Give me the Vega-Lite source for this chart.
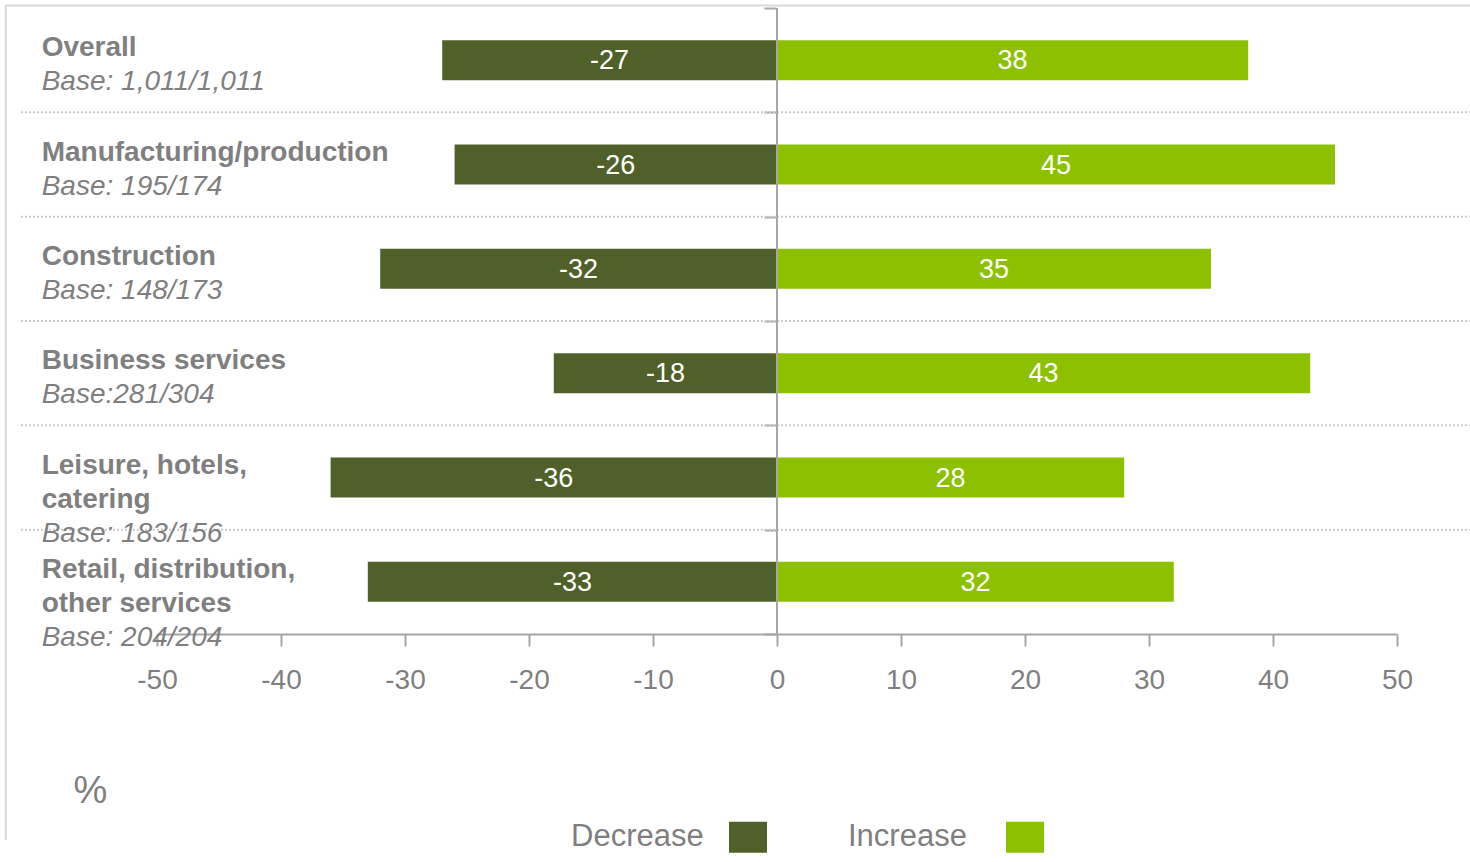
{
  "$schema": "https://vega.github.io/schema/vega-lite/v6.json",
  "width": 1240,
  "height": 834.67,
  "autosize": {"type": "none"},
  "padding": {"left": 157, "top": 5, "right": 73, "bottom": 22.33},
  "background": "white",
  "config": {"font": "Liberation Sans", "view": {"stroke": null}},
  "datasets": {
    "bars": [
      {"category": "Overall", "direction": "Decrease", "value": -27},
      {"category": "Overall", "direction": "Increase", "value": 38},
      {"category": "Manufacturing/production", "direction": "Decrease", "value": -26},
      {"category": "Manufacturing/production", "direction": "Increase", "value": 45},
      {"category": "Construction", "direction": "Decrease", "value": -32},
      {"category": "Construction", "direction": "Increase", "value": 35},
      {"category": "Business services", "direction": "Decrease", "value": -18},
      {"category": "Business services", "direction": "Increase", "value": 43},
      {"category": "Leisure, hotels, catering", "direction": "Decrease", "value": -36},
      {"category": "Leisure, hotels, catering", "direction": "Increase", "value": 28},
      {"category": "Retail, distribution, other services", "direction": "Decrease", "value": -33},
      {"category": "Retail, distribution, other services", "direction": "Increase", "value": 32}
    ],
    "labels": [
      {"category": "Overall", "line": 0, "part": "name", "text": "Overall"},
      {"category": "Overall", "line": 1, "part": "base", "text": "Base: 1,011/1,011"},
      {"category": "Manufacturing/production", "line": 0, "part": "name", "text": "Manufacturing/production"},
      {"category": "Manufacturing/production", "line": 1, "part": "base", "text": "Base: 195/174"},
      {"category": "Construction", "line": 0, "part": "name", "text": "Construction"},
      {"category": "Construction", "line": 1, "part": "base", "text": "Base: 148/173"},
      {"category": "Business services", "line": 0, "part": "name", "text": "Business services"},
      {"category": "Business services", "line": 1, "part": "base", "text": "Base:281/304"},
      {"category": "Leisure, hotels, catering", "line": 0, "part": "name", "text": "Leisure, hotels,"},
      {"category": "Leisure, hotels, catering", "line": 1, "part": "name", "text": "\u00a0catering"},
      {"category": "Leisure, hotels, catering", "line": 2, "part": "base", "text": "Base: 183/156"},
      {"category": "Retail, distribution, other services", "line": 0, "part": "name", "text": "Retail, distribution,"},
      {"category": "Retail, distribution, other services", "line": 1, "part": "name", "text": "other services"},
      {"category": "Retail, distribution, other services", "line": 2, "part": "base", "text": "Base: 204/204"}
    ]
  },
  "resolve": {"scale": {"x": "independent"}},
  "layer": [
    {
      "data": {"values": [{"frame": "left"}]},
      "mark": {"type": "rule", "color": "#d9d9d9", "strokeWidth": 2},
      "encoding": {
        "x": {"datum": -62.2, "type": "quantitative", "scale": {"domain": [-50, 50], "nice": false, "zero": false}, "axis": null}
      }
    },
    {
      "data": {"name": "bars"},
      "transform": [{"filter": "datum.category === 'Overall' && datum.direction === 'Decrease'"}],
      "mark": {"type": "rule", "color": "#d9d9d9", "strokeWidth": 2},
      "encoding": {
        "x": {"datum": -62.2, "type": "quantitative", "scale": {"domain": [-50, 50], "nice": false, "zero": false}, "axis": null},
        "x2": {"datum": 55.97},
        "y": {"field": "category", "type": "nominal", "bandPosition": -0.025, "scale": {"domain": ["Overall", "Manufacturing/production", "Construction", "Business services", "Leisure, hotels, catering", "Retail, distribution, other services"]}}
      }
    },
    {
      "data": {"name": "bars"},
      "transform": [{"filter": "datum.direction === 'Decrease' && datum.category !== 'Retail, distribution, other services'"}],
      "mark": {"type": "rule", "color": "#c8c8c8", "strokeWidth": 2, "strokeDash": [2, 2]},
      "encoding": {
        "x": {"datum": -60.97, "type": "quantitative", "scale": {"domain": [-50, 50], "nice": false, "zero": false}, "axis": null},
        "x2": {"datum": 55.97},
        "y": {"field": "category", "type": "nominal", "bandPosition": 1, "scale": {"domain": ["Overall", "Manufacturing/production", "Construction", "Business services", "Leisure, hotels, catering", "Retail, distribution, other services"]}}
      }
    },
    {
      "data": {"name": "bars"},
      "mark": {"type": "bar", "height": {"band": 0.384}},
      "encoding": {
        "y": {
          "field": "category", "type": "nominal",
          "scale": {"domain": ["Overall", "Manufacturing/production", "Construction", "Business services", "Leisure, hotels, catering", "Retail, distribution, other services"], "paddingInner": 0, "paddingOuter": 1, "align": 0.014375},
          "axis": {"orient": "left", "offset": -619, "domain": false, "labels": false, "grid": false, "tickBand": "extent", "ticks": true, "tickSize": 12, "tickColor": "#a6a6a6", "tickWidth": 2, "tickOpacity": 1, "title": null}
        },
        "x": {
          "field": "value", "type": "quantitative", "stack": null,
          "scale": {"domain": [-50, 50], "nice": false, "zero": false},
          "axis": {
            "orient": "bottom", "offset": -205.67, "values": [-50, -40, -30, -20, -10, 0, 10, 20, 30, 40, 50],
            "labelExpr": "'' + datum.value",
            "grid": false, "domainColor": "#a6a6a6", "domainWidth": 2, "tickColor": "#a6a6a6", "tickWidth": 2, "tickSize": 12,
            "labelFontSize": 28, "labelColor": "#7f7f7f", "labelPadding": 20, "labelFlush": false,
            "title": "%", "titleFontSize": 38, "titleFontWeight": "normal", "titleColor": "#7f7f7f",
            "titleX": -84, "titleY": 168, "titleAlign": "left", "titleAnchor": "start", "titleBaseline": "alphabetic"
          }
        },
        "color": {
          "field": "direction", "type": "nominal",
          "scale": {"domain": ["Decrease", "Increase"], "range": ["#4f6128", "#8dc100"]},
          "legend": {
            "title": null, "orient": "none", "legendX": 414, "legendY": 813, "direction": "horizontal", "padding": 0,
            "symbolType": "M-1,-0.82L1,-0.82L1,0.82L-1,0.82Z", "symbolSize": 1444, "symbolStrokeWidth": 0,
            "symbolOffset": 158, "labelOffset": -196, "labelAlign": "left", "labelFontSize": 31, "labelColor": "#7f7f7f",
            "columnPadding": 81, "labelLimit": 300
          }
        }
      }
    },
    {
      "data": {"name": "bars"},
      "transform": [{"filter": "datum.direction === 'Decrease'"}],
      "mark": {"type": "rect", "fill": null, "stroke": "#a6a6a6", "strokeWidth": 2},
      "encoding": {
        "x": {"datum": 0, "type": "quantitative", "scale": {"domain": [-50, 50], "nice": false, "zero": false}, "axis": null},
        "x2": {"datum": 0},
        "y": {"field": "category", "type": "nominal", "scale": {"domain": ["Overall", "Manufacturing/production", "Construction", "Business services", "Leisure, hotels, catering", "Retail, distribution, other services"]}}
      }
    },
    {
      "data": {"name": "bars"},
      "mark": {"type": "text", "color": "white", "fontSize": 27, "baseline": "middle", "align": "center", "dy": 1},
      "encoding": {
        "x": {"field": "value", "type": "quantitative", "scale": {"domain": [-100, 100], "nice": false, "zero": false}, "axis": null},
        "y": {"field": "category", "type": "nominal", "scale": {"domain": ["Overall", "Manufacturing/production", "Construction", "Business services", "Leisure, hotels, catering", "Retail, distribution, other services"]}},
        "text": {"field": "value", "type": "nominal"}
      }
    },
    {
      "data": {"name": "labels"},
      "transform": [{"filter": "datum.part === 'name' && datum.line === 0"}],
      "mark": {"type": "text", "color": "#7f7f7f", "fontSize": 28, "fontWeight": "bold", "baseline": "middle", "align": "left", "dy": -12},
      "encoding": {
        "x": {"datum": -59.3, "type": "quantitative", "scale": {"domain": [-50, 50], "nice": false, "zero": false}, "axis": null},
        "y": {"field": "category", "type": "nominal", "scale": {"domain": ["Overall", "Manufacturing/production", "Construction", "Business services", "Leisure, hotels, catering", "Retail, distribution, other services"]}},
        "text": {"field": "text", "type": "nominal"}
      }
    },
    {
      "data": {"name": "labels"},
      "transform": [{"filter": "datum.part === 'name' && datum.line === 1"}],
      "mark": {"type": "text", "color": "#7f7f7f", "fontSize": 28, "fontWeight": "bold", "baseline": "middle", "align": "left", "dy": 22},
      "encoding": {
        "x": {"datum": -59.3, "type": "quantitative", "scale": {"domain": [-50, 50], "nice": false, "zero": false}, "axis": null},
        "y": {"field": "category", "type": "nominal", "scale": {"domain": ["Overall", "Manufacturing/production", "Construction", "Business services", "Leisure, hotels, catering", "Retail, distribution, other services"]}},
        "text": {"field": "text", "type": "nominal"}
      }
    },
    {
      "data": {"name": "labels"},
      "transform": [{"filter": "datum.part === 'base' && datum.line === 1"}],
      "mark": {"type": "text", "color": "#7f7f7f", "fontSize": 28, "fontStyle": "italic", "baseline": "middle", "align": "left", "dy": 22},
      "encoding": {
        "x": {"datum": -59.3, "type": "quantitative", "scale": {"domain": [-50, 50], "nice": false, "zero": false}, "axis": null},
        "y": {"field": "category", "type": "nominal", "scale": {"domain": ["Overall", "Manufacturing/production", "Construction", "Business services", "Leisure, hotels, catering", "Retail, distribution, other services"]}},
        "text": {"field": "text", "type": "nominal"}
      }
    },
    {
      "data": {"name": "labels"},
      "transform": [{"filter": "datum.part === 'base' && datum.line === 2"}],
      "mark": {"type": "text", "color": "#7f7f7f", "fontSize": 28, "fontStyle": "italic", "baseline": "middle", "align": "left", "dy": 56},
      "encoding": {
        "x": {"datum": -59.3, "type": "quantitative", "scale": {"domain": [-50, 50], "nice": false, "zero": false}, "axis": null},
        "y": {"field": "category", "type": "nominal", "scale": {"domain": ["Overall", "Manufacturing/production", "Construction", "Business services", "Leisure, hotels, catering", "Retail, distribution, other services"]}},
        "text": {"field": "text", "type": "nominal"}
      }
    }
  ]
}
